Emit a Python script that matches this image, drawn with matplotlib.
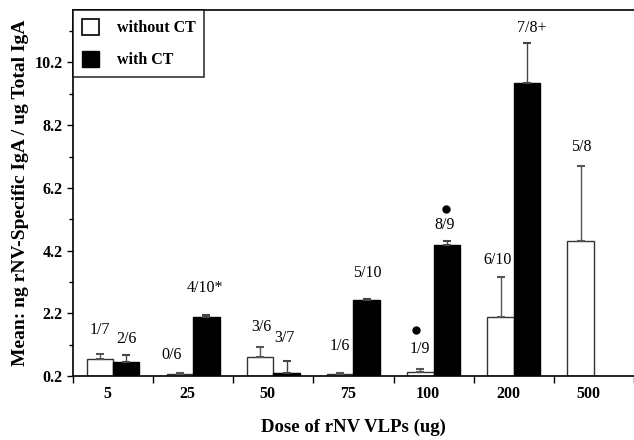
import matplotlib
matplotlib.use("Agg")
import matplotlib.pyplot as plt
import numpy as np
from matplotlib.patches import Patch

# dose groups and mean IgA values (ng rNV-specific / ug total)
doses = ["5", "25", "50", "75", "100", "200", "500"]
without_ct = [0.74, 0.27, 0.80, 0.27, 0.33, 2.09, 4.50]
without_ct_err = [0.16, 0.03, 0.32, 0.01, 0.09, 1.27, 2.40]
with_ct = [0.65, 2.08, 0.30, 2.62, 4.38, 9.55]
with_ct_err = [0.22, 0.07, 0.38, 0.04, 0.12, 1.27]

# responder labels and where they sit (group index offset, y value)
resp_labels = ["1/7", "2/6", "0/6", "4/10*", "3/6", "3/7", "1/6", "5/10",
               "1/9", "8/9", "6/10", "7/8+", "5/8"]
resp_pos = [(-0.16, 1.67), (0.17, 1.38), (0.73, 0.87), (1.15, 3.0),
            (1.85, 1.76), (2.14, 1.41), (2.83, 1.16), (3.17, 3.49),
            (3.83, 1.06), (4.14, 5.02), (4.80, 3.90), (5.23, 11.3),
            (5.84, 7.5)]
# significance dots
dot_pos = [(3.78, 1.67), (4.16, 5.53)]

BASE = 0.2
plt.rcParams["font.family"] = ["Liberation Serif", "DejaVu Serif"]

fig = plt.figure(figsize=(6.34, 4.4), dpi=100)
ax = fig.add_axes([0.115, 0.1455, 0.885, 0.8315])

x = np.arange(len(doses))
w = 0.33
ax.bar(x - w / 2, np.array(without_ct) - BASE, w, bottom=BASE,
       facecolor="white", edgecolor="#333333", linewidth=1.0,
       yerr=[np.zeros(len(doses)), without_ct_err],
       error_kw=dict(ecolor="#555555", elinewidth=1.0, capsize=3, capthick=1.5))
xc = x[:len(with_ct)]
ax.bar(xc + w / 2, np.array(with_ct) - BASE, w, bottom=BASE,
       facecolor="black", edgecolor="black", linewidth=1.0,
       yerr=[np.zeros(len(with_ct)), with_ct_err],
       error_kw=dict(ecolor="#444444", elinewidth=1.0, capsize=3, capthick=1.5))

for lab, (px, py) in zip(resp_labels, resp_pos):
    ax.text(px, py, lab, ha="center", va="center", fontsize=11.5)
ax.plot([p[0] for p in dot_pos], [p[1] for p in dot_pos], "o",
        color="black", markersize=5, linestyle="none")

ax.set_xlim(-0.5, 6.43)
ax.set_ylim(BASE, 11.87)

ax.set_xticks(np.arange(-0.5, 7.0, 1.0))
ax.set_xticklabels([])
ax.set_xticks(x - 0.07, minor=True)
ax.set_xticklabels(doses, minor=True, fontweight="bold", fontsize=11.5)
ax.tick_params(axis="x", which="major", direction="out", length=5, width=1)
ax.tick_params(axis="x", which="minor", length=0, pad=7)

ax.set_yticks(np.arange(0.2, 11.0, 2.0))
ax.set_yticklabels([f"{v:.1f}" for v in np.arange(0.2, 11.0, 2.0)],
                   fontweight="bold", fontsize=11.5)
ax.set_yticks(np.arange(1.2, 11.9, 2.0), minor=True)
ax.tick_params(axis="y", which="major", direction="out", length=4, width=1)
ax.tick_params(axis="y", which="minor", direction="out", length=3, width=1)

ax.spines["right"].set_visible(False)
for s in ["left", "bottom", "top"]:
    ax.spines[s].set_linewidth(1.2)

ax.set_xlabel("Dose of rNV VLPs (ug)", fontweight="bold", fontsize=13.5,
              labelpad=12)
ax.set_ylabel("Mean: ng rNV-Specific IgA / ug Total IgA", fontweight="bold",
              fontsize=14, labelpad=4)

handles = [Patch(facecolor="white", edgecolor="black", linewidth=1.2),
           Patch(facecolor="black", edgecolor="black")]
leg = ax.legend(handles, ["without CT", "with CT"], loc="upper left",
                borderaxespad=0, frameon=True, fancybox=False,
                edgecolor="black", handlelength=1.1, handleheight=1.2,
                labelspacing=0.9, borderpad=0.55, handletextpad=1.1,
                prop=dict(weight="bold", size=11.5))
leg.get_frame().set_linewidth(1.2)

fig.savefig("out.png", dpi=100)
